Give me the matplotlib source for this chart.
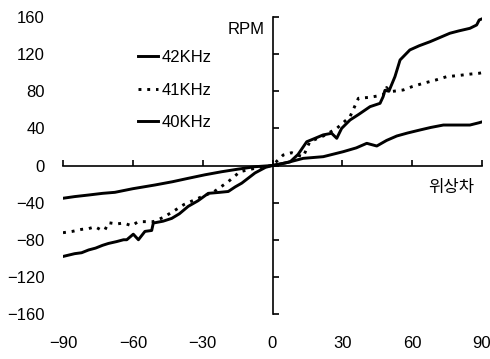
import matplotlib
matplotlib.use("Agg")
import matplotlib.pyplot as plt

plt.rcParams['font.family'] = ['Liberation Sans', 'Noto Sans CJK KR', 'DejaVu Sans']

# phase difference (deg) vs RPM
x42 = [-90, -85, -82, -79, -76, -73, -70.5, -67, -64, -62.6, -59.8, -57.6, -54.8, -51.9, -51.2,
       -47, -43.3, -40, -36.2, -32, -27.6, -23, -19, -16, -13.2, -7.5, -3, 0,
       4, 7.6, 11, 14.7, 18, 21.8, 25.4, 27.6, 29.7, 33.3, 37, 41.9, 46.2, 47.5, 48.3, 50,
       52.6, 54.8, 59, 63, 67.7, 72, 76.2, 80, 84.8, 87.7, 88.8, 90]
y42 = [-98, -95, -94, -91, -89, -86, -84, -82, -80, -80, -74, -80, -71, -70, -62,
       -60, -57, -52, -44, -38, -30, -29, -28, -23, -19, -8, -2, 0,
       2, 4, 12, 25.6, 29, 33, 34.7, 29.3, 40, 49, 55, 63.4, 67, 74, 81, 80,
       95.7, 113.7, 124.5, 129, 133.4, 138, 142.5, 145, 147.8, 151.4, 156.8, 158]

x41 = [-90, -86, -82, -79, -76.2, -74, -72, -70.5, -67, -64, -60.5, -58, -56.2, -51.2,
       -47, -43, -38, -31.9, -25, -19, -14, -7.5, -3, 0,
       2, 4.6, 8.2, 11, 13.2, 16, 22, 27.6, 33.3, 36.9, 41.9, 47.6, 49, 50.5,
       56.2, 60, 64.8, 70, 74.8, 80, 85, 88.8, 90]
y41 = [-72.4, -71, -68.8, -68, -66, -69, -69.5, -61.6, -63, -62, -64.9, -61, -60.5, -60.5,
       -56, -50, -42, -35.3, -28, -17.4, -6.7, -3, -1, 0,
       5, 11.3, 13.8, 11, 9.5, 25.6, 32, 40, 52.6, 72.4, 73.5, 76, 84, 79.5,
       81.4, 85, 88.6, 92, 95.7, 97, 98.5, 99.4, 100]

x40 = [-90, -85, -79, -73, -67.7, -60, -50.5, -43, -36.2, -29, -21.8, -15, -7.5, 0,
       6, 13.2, 21.8, 30.4, 36, 40.5, 44.8, 49, 53.4, 58, 63.4, 68, 73.4, 79, 84.8, 88.8, 90]
y40 = [-35.3, -33.5, -31.8, -30, -28.9, -25, -21, -17.5, -13.8, -10, -6.7, -4, -1.3, 0,
       3, 7.7, 9.5, 14.9, 19, 23.9, 21, 27, 31.8, 35, 38.3, 41, 43.6, 43.6, 43.6, 46.1, 47]

xticks = [-90, -60, -30, 0, 30, 60, 90]
yticks = [-160, -120, -80, -40, 0, 40, 80, 120, 160]

fig = plt.figure(figsize=(4.9, 3.59), dpi=100)
pos = [63 / 490, 1 - 314 / 359, (482 - 63) / 490, (314 - 17) / 359]

# outer axes: only tick labels along the frame edges
ax = fig.add_axes(pos)
ax.set_xlim(-90, 90)
ax.set_ylim(-160, 160)
ax.set_xticks(xticks)
ax.set_yticks(yticks)
ax.set_yticklabels([str(v).replace('-', '\u2212') for v in yticks])
ax.set_xticklabels([str(v).replace('-', '\u2212') for v in xticks])
for s in ax.spines.values():
    s.set_visible(False)
ax.tick_params(axis='x', length=0, pad=16, labelsize=12)
ax.tick_params(axis='y', length=0, pad=13, labelsize=12)

# inner axes: crossing axis lines at zero
ax2 = fig.add_axes(pos, sharex=ax, sharey=ax)
ax2.patch.set_alpha(0)
ax2.spines['left'].set_position(('data', 0))
ax2.spines['bottom'].set_position(('data', 0))
ax2.spines['right'].set_visible(False)
ax2.spines['top'].set_visible(False)
for s in ('left', 'bottom'):
    ax2.spines[s].set_linewidth(1.2)
ax2.tick_params(direction='in', length=4, width=1.2, labelleft=False, labelbottom=False)

l42, = ax2.plot(x42, y42, color='black', lw=2.1)
l41, = ax2.plot(x41, y41, color='black', lw=2.1, ls=(0, (1.0, 2.0)))
l40, = ax2.plot(x40, y40, color='black', lw=2.1)

ax2.legend([l42, l41, l40], ['42KHz', '41KHz', '40KHz'], loc='upper left',
           bbox_to_anchor=(130 / 490, 1 - 42 / 359), bbox_transform=fig.transFigure,
           frameon=False, fontsize=12, handlelength=1.2, handletextpad=0.2,
           labelspacing=1.05, borderpad=0)

ax2.text(-11.5, 146, 'RPM', fontsize=12, ha='center', va='center')
ax2.text(77, -24, '위상차', fontsize=12, ha='center', va='center')

fig.savefig('out.png', dpi=100)
